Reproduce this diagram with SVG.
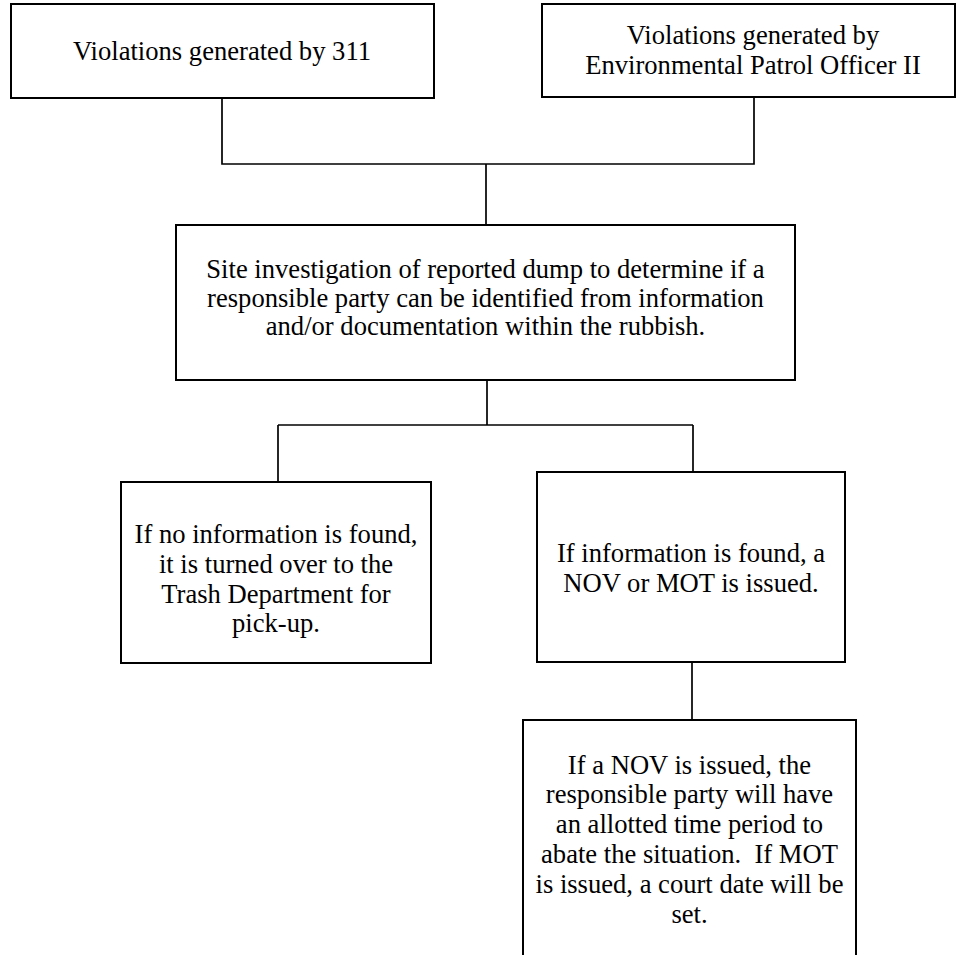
<svg xmlns="http://www.w3.org/2000/svg" width="956" height="955" viewBox="0 0 956 955">
<style>
.box{fill:#fff;stroke:#000;stroke-width:2}
.c{fill:none;stroke:#000;stroke-width:1.7}
.t{font-family:'Liberation Serif','Times New Roman','DejaVu Serif',serif;font-size:26.6px;fill:#000;text-anchor:middle}
</style>
<rect width="956" height="955" fill="#fff"/>
<g id="connectors">
<path class="c" d="M222 98 V164 H754 V97"/>
<path class="c" d="M486 164 V225"/>
<path class="c" d="M487 380 V425"/>
<path class="c" d="M278 425 H693"/>
<path class="c" d="M278 425 V482"/>
<path class="c" d="M693 425 V472"/>
<path class="c" d="M692 662 V720"/>
</g>
<g id="n311" class="t">
<rect class="box" x="11" y="4" width="423" height="94"/>
<text x="222" y="60">Violations generated by 311</text>
</g>
<g id="nEPO" class="t">
<rect class="box" x="542" y="4" width="413" height="93"/>
<text x="753" y="44">Violations generated by</text>
<text x="753" y="74">Environmental Patrol Officer II</text>
</g>
<g id="nSite" class="t">
<rect class="box" x="176" y="225" width="619" height="155"/>
<text x="485.5" y="278">Site investigation of reported dump to determine if a</text>
<text x="485.5" y="307">responsible party can be identified from information</text>
<text x="485.5" y="335">and/or documentation within the rubbish.</text>
</g>
<g id="nNoInfo" class="t">
<rect class="box" x="121" y="482" width="310" height="181"/>
<text x="276" y="543">If no information is found,</text>
<text x="276" y="573">it is turned over to the</text>
<text x="276" y="603">Trash Department for</text>
<text x="276" y="632">pick-up.</text>
</g>
<g id="nInfo" class="t">
<rect class="box" x="537" y="472" width="308" height="190"/>
<text x="691" y="562">If information is found, a</text>
<text x="691" y="592">NOV or MOT is issued.</text>
</g>
<g id="nNOV" class="t">
<rect class="box" x="523" y="720" width="333" height="250"/>
<text x="689.5" y="774">If a NOV is issued, the</text>
<text x="689.5" y="803">responsible party will have</text>
<text x="689.5" y="833">an allotted time period to</text>
<text x="689.5" y="863" xml:space="preserve">abate the situation.  If MOT</text>
<text x="689.5" y="893">is issued, a court date will be</text>
<text x="689.5" y="923">set.</text>
</g>
</svg>
